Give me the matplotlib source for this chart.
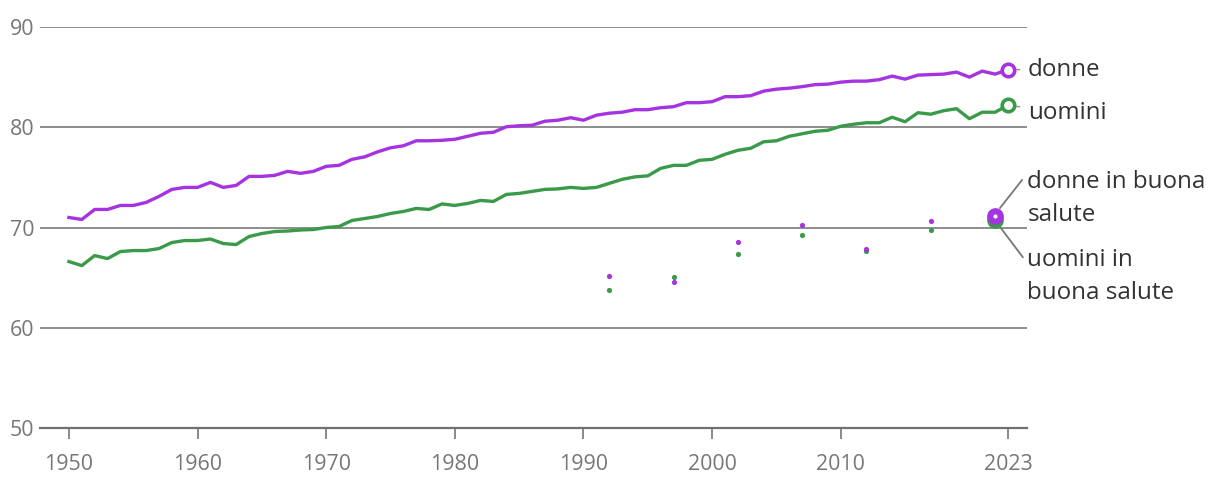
import matplotlib
matplotlib.use("Agg")
import matplotlib.pyplot as plt

plt.rcParams['font.family'] = ['Open Sans', 'DejaVu Sans']

years = list(range(1950, 2024))
donne = [71.0, 70.8, 71.8, 71.8, 72.2, 72.2, 72.5, 73.1, 73.8, 74.0,
         74.0, 74.5, 74.0, 74.2, 75.1, 75.1, 75.2, 75.6, 75.4, 75.6,
         76.1, 76.2, 76.8, 77.05, 77.55, 77.95, 78.15, 78.65, 78.65, 78.7,
         78.8, 79.1, 79.4, 79.5, 80.05, 80.15, 80.2, 80.6, 80.7, 80.95,
         80.7, 81.2, 81.4, 81.5, 81.75, 81.75, 81.95, 82.05, 82.45, 82.45,
         82.55, 83.05, 83.05, 83.15, 83.6, 83.8, 83.9, 84.05, 84.25, 84.3,
         84.5, 84.6, 84.6, 84.75, 85.1, 84.8, 85.2, 85.25, 85.3, 85.5,
         85.0, 85.6, 85.3, 85.75]
uomini = [66.6, 66.2, 67.2, 66.9, 67.6, 67.7, 67.7, 67.9, 68.5, 68.7,
          68.7, 68.85, 68.4, 68.3, 69.1, 69.4, 69.6, 69.65, 69.75, 69.8,
          70.0, 70.1, 70.7, 70.9, 71.1, 71.4, 71.6, 71.9, 71.8, 72.35,
          72.2, 72.4, 72.7, 72.6, 73.3, 73.4, 73.6, 73.8, 73.85, 74.0,
          73.9, 74.0, 74.4, 74.8, 75.05, 75.15, 75.9, 76.2, 76.2, 76.7,
          76.8, 77.3, 77.7, 77.9, 78.55, 78.65, 79.1, 79.35, 79.6, 79.7,
          80.1, 80.3, 80.45, 80.45, 81.0, 80.55, 81.45, 81.3, 81.65, 81.85,
          80.85, 81.5, 81.5, 82.2]

# aspettativa di vita in buona salute
anni_bs = [1992, 1997, 2002, 2007, 2012, 2017]
donne_bs = [65.2, 64.6, 68.6, 70.2, 67.85, 70.6]
uomini_bs = [63.8, 65.1, 67.4, 69.3, 67.65, 69.8]
anno_bs_ultimo = 2022
donne_bs_ultimo = 71.15
uomini_bs_ultimo = 70.75

xticks = [1950, 1960, 1970, 1980, 1990, 2000, 2010, 2023]
yticks = [50, 60, 70, 80, 90]

viola = '#a633e0'
verde = '#3a9a4a'
grigio = '#777777'
testo = '#333333'

fig = plt.figure(figsize=(12.2, 4.96), dpi=100)
ax = fig.add_axes([40 / 1220, 1 - 428 / 496, 987 / 1220, 401 / 496])

for y in yticks[1:]:
    ax.axhline(y, color='#858585', lw=1.3, zorder=1)

ax.plot(years, donne, color=viola, lw=2.4, zorder=3, solid_joinstyle='round')
ax.plot(years, uomini, color=verde, lw=2.4, zorder=3, solid_joinstyle='round')
ax.plot(years[-1], donne[-1], 'o', ms=9, mfc='white', mec=viola, mew=2.6, zorder=4)
ax.plot(years[-1], uomini[-1], 'o', ms=9, mfc='white', mec=verde, mew=2.6, zorder=4)

ax.scatter(anni_bs, uomini_bs, s=14, color=verde, zorder=3, linewidths=0)
ax.scatter(anni_bs, donne_bs, s=14, color=viola, zorder=3, linewidths=0)
ax.plot(anno_bs_ultimo, uomini_bs_ultimo, 'o', ms=11, color=verde, mec=verde, zorder=4)
ax.plot(anno_bs_ultimo, donne_bs_ultimo, 'o', ms=11, color=viola, mec=viola, zorder=5)
ax.plot(anno_bs_ultimo, donne_bs_ultimo, 'o', ms=3, color='white', mew=0, zorder=6)

ax.set_xlim(1947.75, 2024.48)
ax.set_ylim(50, 90)
ax.set_xticks(xticks)
ax.set_xticklabels([str(x) for x in xticks])
ax.set_yticks(yticks)
ax.tick_params(axis='x', length=8, width=1.2, color=grigio, labelcolor=grigio,
               labelsize=15.4, pad=11)
ax.tick_params(axis='y', length=0, labelcolor=grigio, labelsize=15.4, pad=4)
for s in ['top', 'right', 'left']:
    ax.spines[s].set_visible(False)
ax.spines['bottom'].set_color('#707070')
ax.spines['bottom'].set_linewidth(1.6)

# etichette a destra
fs = 17.4
ax.annotate('donne', xy=(years[-1], donne[-1]), xytext=(20, 0), textcoords='offset pixels',
            fontsize=fs, color=testo, va='center', ha='left', annotation_clip=False,
            arrowprops=dict(arrowstyle='-', color='#888888', lw=1, shrinkA=4, shrinkB=6.5))
ax.annotate('uomini', xy=(years[-1], uomini[-1]), xytext=(20, -8), textcoords='offset pixels',
            fontsize=fs, color=testo, va='center', ha='left', annotation_clip=False,
            arrowprops=dict(arrowstyle='-', color='#888888', lw=1, shrinkA=4, shrinkB=6.5))
ax.text(2024.5, 72.88, 'donne in buona\nsalute', fontsize=fs, color=testo,
        va='center', ha='left', linespacing=1.5, clip_on=False)
ax.text(2024.5, 65.15, 'uomini in\nbuona salute', fontsize=fs, color=testo,
        va='center', ha='left', linespacing=1.5, clip_on=False)
ax.plot([2022.38, 2024.09], [71.94, 74.73], color='#777777', lw=1.3, clip_on=False, zorder=2)
ax.plot([2022.45, 2024.15], [69.94, 67.05], color='#777777', lw=1.3, clip_on=False, zorder=2)

fig.savefig('out.png', dpi=100)
